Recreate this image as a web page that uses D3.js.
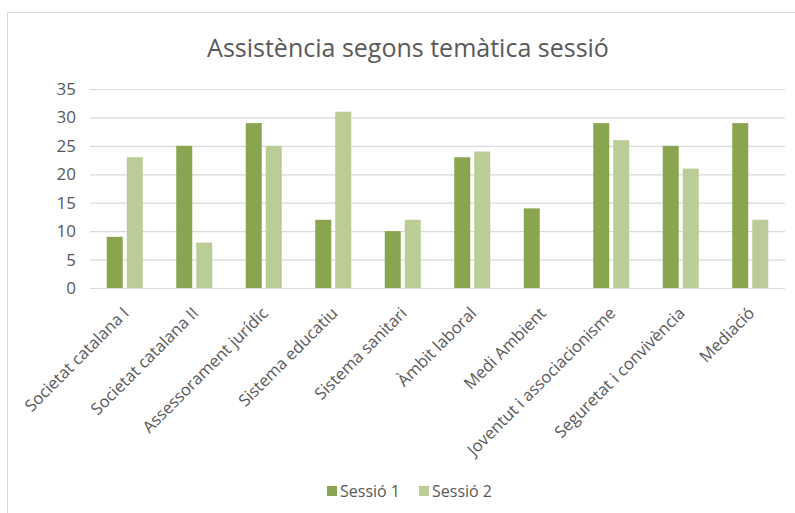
<!DOCTYPE html>
<html>
<head>
<meta charset="utf-8">
<script src="https://cdn.jsdelivr.net/npm/d3@7"></script>
<style>
  body { margin: 0; background: #fff; }
  svg { display: block; font-family: "Open Sans", "Liberation Sans", sans-serif; }
</style>
</head>
<body>
<svg id="chart" width="795" height="513"></svg>
<script>
const categories = ["Societat catalana I", "Societat catalana II", "Assessorament jurídic", "Sistema educatiu",
  "Sistema sanitari", "Àmbit laboral", "Medi Ambient", "Joventut i associacionisme",
  "Seguretat i convivència", "Mediació"];
const sessio1 = [9, 25, 29, 12, 10, 23, 14, 29, 25, 29];
const sessio2 = [23, 8, 25, 31, 12, 24, 0, 26, 21, 12];
const seriesNames = ["Sessió 1", "Sessió 2"];
const yTicks = [0, 5, 10, 15, 20, 25, 30, 35];
const colors = ["#8aa54f", "#bacd96"];

const svg = d3.select("#chart");

// chart frame
svg.append("rect")
  .attr("x", 7.5).attr("y", 12.5)
  .attr("width", 800).attr("height", 510)
  .attr("fill", "#fff").attr("stroke", "#d9d9d9");

svg.append("text")
  .attr("x", 408).attr("y", 57)
  .attr("text-anchor", "middle")
  .attr("font-size", 25)
  .attr("fill", "#595959")
  .text("Assistència segons temàtica sessió");

const x = d3.scaleBand().domain(categories).range([90, 785]);
const y = d3.scaleLinear().domain([0, 35]).range([288, 89]);

const yAxis = svg.append("g")
  .attr("transform", "translate(90,0)")
  .call(d3.axisLeft(y).tickValues(yTicks).tickSize(-695).tickPadding(14));
yAxis.select(".domain").remove();
yAxis.selectAll("line").attr("stroke", "#d9d9d9").attr("stroke-width", 1.2);
yAxis.selectAll("text").attr("fill", "#595959").attr("font-size", 17)
  .attr("font-family", "Open Sans, sans-serif");

const data = categories.map((c, i) => ({ cat: c, vals: [sessio1[i], sessio2[i]] }));
const barW = 16, gap = 4;

const groups = svg.append("g").selectAll("g")
  .data(data).join("g")
  .attr("transform", d => `translate(${x(d.cat) + x.bandwidth() / 2},0)`);

groups.selectAll("rect")
  .data(d => d.vals.map((v, k) => ({ v, k })))
  .join("rect")
  .attr("x", d => d.k === 0 ? -barW - gap / 2 : gap / 2)
  .attr("width", barW)
  .attr("y", d => y(d.v))
  .attr("height", d => y(0) - y(d.v))
  .attr("fill", d => colors[d.k]);

// x axis labels, rotated
svg.append("g").selectAll("text")
  .data(categories).join("text")
  .attr("transform", d => `translate(${x(d) + x.bandwidth() / 2 - 3},${306}) rotate(-45)`)
  .attr("text-anchor", "end")
  .attr("dy", "0.71em")
  .attr("font-size", 16.5)
  .attr("fill", "#595959")
  .text(d => d);

// legend
const legend = svg.append("g").attr("transform", "translate(327,486)");
const legendX = [0, 92];
seriesNames.forEach((name, i) => {
  const g = legend.append("g").attr("transform", `translate(${legendX[i]},0)`);
  g.append("rect").attr("width", 10).attr("height", 10).attr("fill", colors[i]);
  g.append("text").attr("x", 13).attr("y", 11).attr("font-size", 16)
    .attr("fill", "#595959").text(name);
});
</script>
</body>
</html>
